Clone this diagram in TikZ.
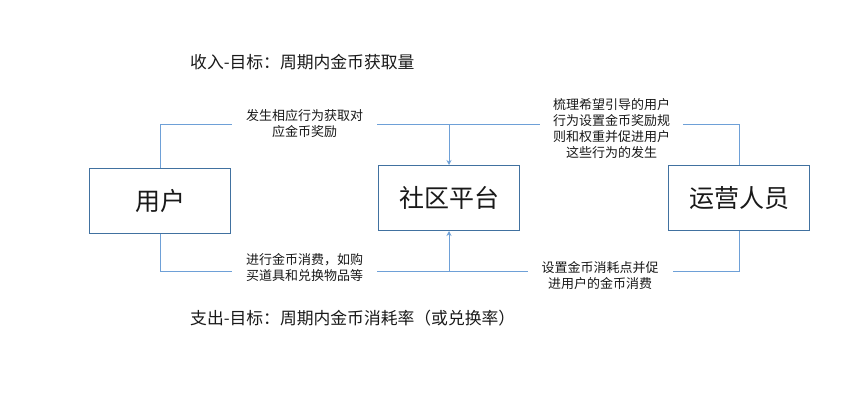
\documentclass[tikz,border=0pt]{standalone}
\usepackage{fontspec}
\setmainfont{Noto Sans CJK SC}
\usetikzlibrary{arrows.meta}
\definecolor{boxc}{RGB}{65,113,160}
\definecolor{linec}{RGB}{110,160,215}
\definecolor{txt}{RGB}{25,25,25}
\tikzset{
  box/.style={draw=boxc, line width=1pt, minimum width=141pt, minimum height=65pt, inner sep=0pt, font=\fontsize{25}{28}\selectfont, text=txt},
  conn/.style={draw=linec, line width=1pt},
  arr/.style={conn, -{Stealth[length=5pt,width=5pt]}},
  lab/.style={fill=white, inner ysep=2pt, align=center, font=\fontsize{13}{16}\selectfont, text=txt},
  ttl/.style={anchor=west, inner sep=0pt, font=\fontsize{16.8}{20}\selectfont, text=txt}
}
\begin{document}
\begin{tikzpicture}[x=1pt,y=-1pt]
\useasboundingbox (0,0) rectangle (865,414);
\node[box] (u) at (160,201.5) {用户};
\node[box] (p) at (449,198) {社区平台};
\node[box] (o) at (739,198.5) {运营人员};
\coordinate (tj) at (449,125);
\coordinate (bj) at (449,272);
\draw[conn] (u.north) |- (tj);
\draw[conn] (o.north) |- (tj);
\draw[arr] (tj) -- (p.north);
\draw[conn] (u.south) |- (bj);
\draw[conn] (o.south) |- (bj);
\draw[arr] (bj) -- (p.south);
\node[lab, inner xsep=14pt] (l1) at (304.5,123.5) {发生相应行为获取对\\应金币奖励};
\node[lab, inner xsep=13pt] (l2) at (611.5,128.5) {梳理希望引导的用户\\行为设置金币奖励规\\则和权重并促进用户\\这些行为的发生};
\node[lab, inner xsep=14pt] (l3) at (304.5,268) {进行金币消费，如购\\买道具和兑换物品等};
\node[lab, inner xsep=14pt] (l4) at (600,275.5) {设置金币消耗点并促\\进用户的金币消费};
\node[ttl] (t1) at (190,62) {收入-目标：周期内金币获取量};
\node[ttl] (t2) at (190,318) {支出-目标：周期内金币消耗率（或兑换率）};
\end{tikzpicture}
\end{document}
